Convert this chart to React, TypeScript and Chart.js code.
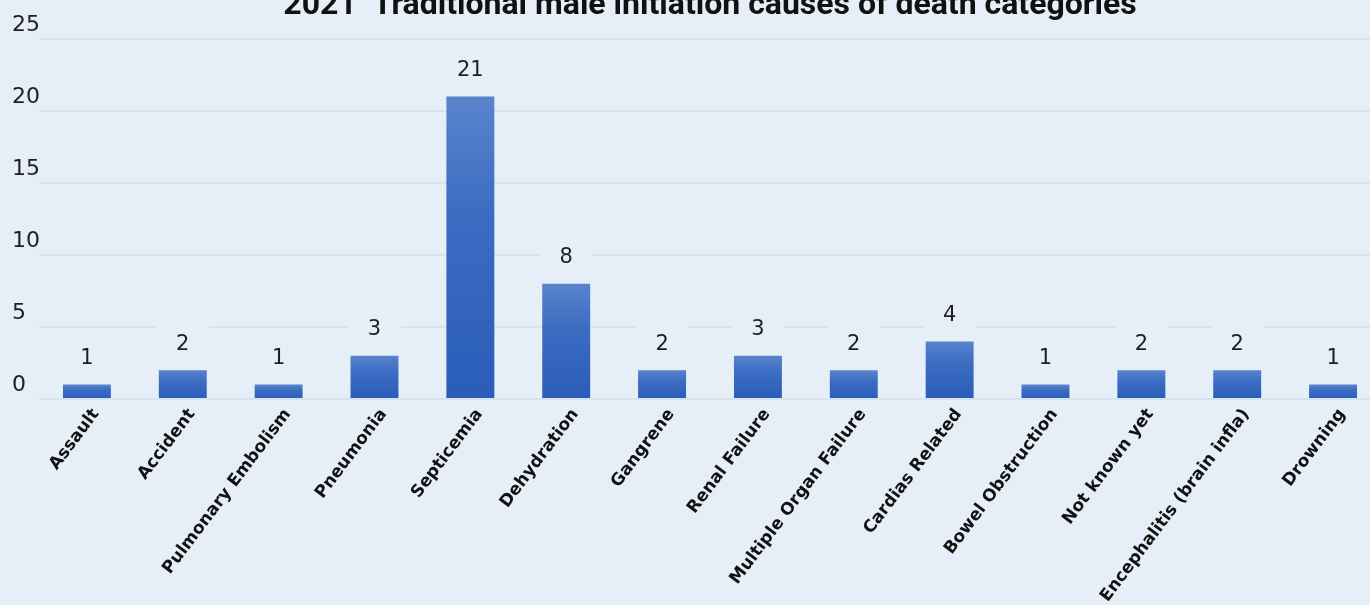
import React, { useEffect, useRef } from "react";
import { Chart, registerables } from "chart.js";

Chart.register(...registerables);

const categories = [
  "Assault",
  "Accident",
  "Pulmonary Embolism",
  "Pneumonia",
  "Septicemia",
  "Dehydration",
  "Gangrene",
  "Renal Failure",
  "Multiple Organ Failure",
  "Cardias Related",
  "Bowel Obstruction",
  "Not known yet",
  "Encephalitis (brain infla)",
  "Drowning",
];
const deaths = [1, 2, 1, 3, 21, 8, 2, 3, 2, 4, 1, 2, 2, 1];
const yMin = 0;
const yMax = 25;
const yStep = 5;
const chartTitle = "2021  Traditional male initiation causes of death categories";

const BG = "#e6eff7";
const GRID = "#d7e3ee";
const BAR_TOP = "#5a83cc";
const BAR_MID = "#3a6cc2";
const BAR_BOTTOM = "#2a5db8";
const NUM_FONT = "'DejaVu Sans', sans-serif";

const bgPlugin = {
  id: "bgFill",
  beforeDraw(chart: any) {
    const ctx = chart.ctx;
    ctx.save();
    ctx.fillStyle = BG;
    ctx.fillRect(0, 0, chart.width, chart.height);
    ctx.restore();
  },
};

const labelPlugin = {
  id: "valueLabels",
  afterDatasetsDraw(chart: any) {
    const ctx = chart.ctx;
    const meta = chart.getDatasetMeta(0);
    ctx.save();
    ctx.font = `21px ${NUM_FONT}`;
    ctx.textAlign = "center";
    ctx.textBaseline = "middle";
    meta.data.forEach((el: any, i: number) => {
      const x = el.x;
      const y = el.y - 26;
      ctx.fillStyle = BG;
      ctx.fillRect(x - 26, y - 20, 52, 40);
      ctx.fillStyle = "#1e1e1e";
      ctx.fillText(String(deaths[i]), x, y);
    });
    ctx.restore();
  },
};

const titlePlugin = {
  id: "topTitle",
  afterDraw(chart: any) {
    const ctx = chart.ctx;
    const a = chart.chartArea;
    ctx.save();
    ctx.font = "bold 32px Roboto, sans-serif";
    ctx.fillStyle = "#111";
    ctx.textAlign = "center";
    ctx.textBaseline = "alphabetic";
    ctx.fillText(chartTitle, (a.left + a.right) / 2, 14);
    ctx.restore();
  },
};

function barGradient(c: any) {
  const chart = c.chart;
  if (!chart.chartArea || !chart.scales || !chart.scales.y) return BAR_BOTTOM;
  const ys = chart.scales.y;
  const top = ys.getPixelForValue(c.raw);
  const base = ys.getPixelForValue(0);
  if (!isFinite(top) || !isFinite(base) || top === base) return BAR_BOTTOM;
  const g = chart.ctx.createLinearGradient(0, top, 0, base);
  g.addColorStop(0, BAR_TOP);
  g.addColorStop(0.4, BAR_MID);
  g.addColorStop(1, BAR_BOTTOM);
  return g;
}

export default function App() {
  const ref = useRef<HTMLCanvasElement | null>(null);

  useEffect(() => {
    document.body.style.margin = "0";
    document.body.style.overflow = "hidden";
    const canvas = ref.current;
    if (!canvas) return;
    const chart = new Chart(canvas, {
      type: "bar",
      data: {
        labels: categories,
        datasets: [
          {
            label: "Deaths",
            data: deaths,
            backgroundColor: barGradient,
            borderWidth: 0,
            barPercentage: 0.5,
            categoryPercentage: 1,
          },
        ],
      },
      options: {
        responsive: false,
        animation: false,
        devicePixelRatio: 1,
        layout: { padding: { top: 39, left: 12, right: 9, bottom: 0 } },
        plugins: {
          legend: { display: false },
          title: { display: false },
          tooltip: { enabled: false },
        },
        scales: {
          y: {
            min: yMin,
            max: yMax,
            ticks: {
              stepSize: yStep,
              color: "#1e1e1e",
              font: { family: NUM_FONT, size: 22 },
              labelOffset: -14,
              crossAlign: "far",
              padding: 0,
            },
            grid: { color: GRID, lineWidth: 2, drawTicks: false },
            border: { display: false },
            afterFit: (s: any) => {
              s.width = 27;
            },
          },
          x: {
            grid: { display: false, drawTicks: false },
            border: { display: false },
            ticks: {
              autoSkip: false,
              minRotation: 53,
              maxRotation: 53,
              labelOffset: 9,
              color: "#111",
              font: { family: "'DejaVu Sans', sans-serif", size: 17, weight: "bold" },
              padding: 6,
            },
            afterFit: (s: any) => {
              s.height = 605 - 399;
            },
          },
        },
      },
      plugins: [bgPlugin, labelPlugin, titlePlugin],
    });
    chart.update();
    return () => chart.destroy();
  }, []);

  return (
    <div style={{ width: 1370, height: 605, overflow: "hidden", position: "relative" }}>
      <canvas ref={ref} width={1390} height={605} style={{ display: "block" }} />
    </div>
  );
}
